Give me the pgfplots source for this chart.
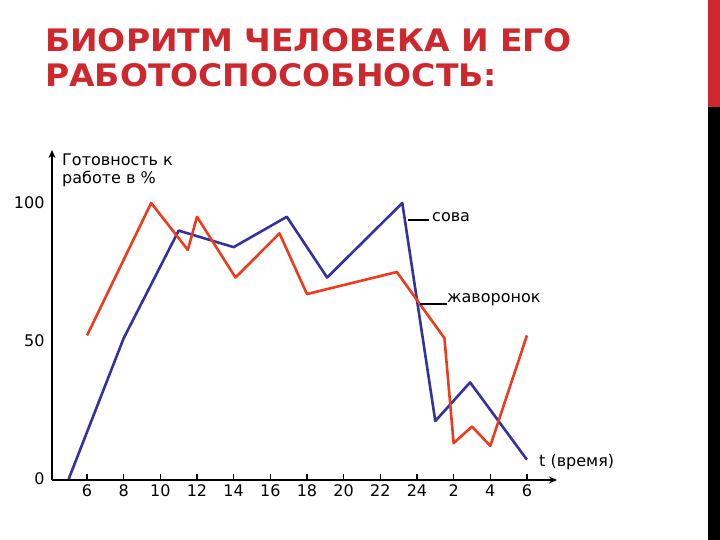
\documentclass[border=0pt]{standalone}
\usepackage{pgfplots}
\pgfplotsset{compat=1.18}
\usepackage{fontspec}
\setmainfont{DejaVu Sans}
\newfontfamily\titlefont{DejaVu Sans}
\usetikzlibrary{arrows.meta}

\definecolor{owl}{RGB}{51,51,160}
\definecolor{lark}{RGB}{235,60,30}
\definecolor{accent}{RGB}{205,40,45}

\begin{document}
\begin{tikzpicture}[x=1pt,y=1pt]
% page frame, 1 px of the slide = 1 pt
\path[use as bounding box, fill=white] (0,0) rectangle (720,540);
\fill[accent] (708,433) rectangle (720,540);
\fill[black] (708,0) rectangle (720,433);

\node[anchor=base west, text=accent, inner sep=0] at (45,488)
  {\scalebox{1.065}[1]{\titlefont\bfseries\fontsize{31}{35}\selectfont БИОРИТМ ЧЕЛОВЕКА И ЕГО}};
\node[anchor=base west, text=accent, inner sep=0] at (45,453)
  {\scalebox{1.065}[1]{\titlefont\bfseries\fontsize{31}{35}\selectfont РАБОТОСПОСОБНОСТЬ:}};

\begin{axis}[
    at={(52pt,60pt)}, anchor=south west,
    scale only axis, width=505pt, height=330pt,
    xmin=4.09, xmax=31.64, ymin=-0.36, ymax=119.2,
    axis lines=left,
    axis line style={line width=2pt, -{Stealth[length=8pt,width=7pt]}},
    xtick={6,8,...,30},
    xticklabels={6,8,10,12,14,16,18,20,22,24,2,4,6},
    ytick={0,50,100},
    yticklabels={0,50,100},
    /pgf/number format/assume math mode=true,
    tick label style={font=\fontsize{16}{18}\selectfont},
    xtick style={line width=1.4pt, black},
    ytick style={draw=none},
    major tick length=6pt,
    xtick align=inside,
    xticklabel style={yshift=-1pt},
    yticklabel style={xshift=-1pt},
    clip=false,
]
\addplot[owl, line width=2.6pt, line join=round] coordinates {
    (5,0) (8,51) (11,90) (14,84) (16.9,95) (19.1,73)
    (23.2,100) (25,21) (26.9,35) (30,7)
};
\addplot[lark, line width=2.6pt, line join=round] coordinates {
    (6,52) (9.5,100) (11.5,83) (12,95) (14.1,73) (16.5,89)
    (18,67) (22.9,75) (25.5,51) (26,13) (27,19) (28,12) (30,52)
};
\end{axis}

% axis titles and series labels
\node[anchor=north west, align=left, inner sep=0,
      font=\fontsize{16}{18}\selectfont] at (62,386)
  {Готовность к\\работе в \%};
\node[anchor=west, inner sep=0, font=\fontsize{16}{18}\selectfont]
  at (539,78) {t (время)};
\draw[line width=1.2pt] (408,320) -- (429,320);
\node[anchor=west, inner sep=0, font=\fontsize{16}{18}\selectfont]
  at (432,323) {сова};
\draw[line width=1.2pt] (420,236) -- (447,236);
\node[anchor=west, inner sep=0, font=\fontsize{16}{18}\selectfont]
  at (447,240) {жаворонок};
\end{tikzpicture}
\end{document}
